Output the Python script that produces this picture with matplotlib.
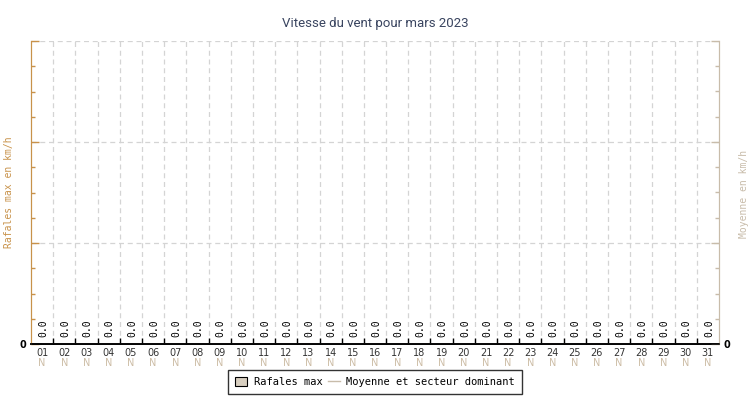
import matplotlib
matplotlib.use("Agg")
import matplotlib.pyplot as plt
from matplotlib.patches import Patch
from matplotlib.lines import Line2D
from matplotlib.ticker import MultipleLocator

# donnees du mois
jours = ["%02d" % d for d in range(1, 32)]
rafales = [0.0] * 31
moyenne = [0.0] * 31
secteur = ["N"] * 31

titre = "Vitesse du vent pour mars 2023"
col_rafales = "#c8924a"
col_moyenne = "#c8bcaa"
col_secteur = "#cdbda6"
col_grille = "#d4d4d4"

fig = plt.figure(figsize=(7.5, 4), dpi=100)
ax = fig.add_axes([31 / 750, 1 - 344 / 400, 688 / 750, 303 / 400])
ax2 = ax.twinx()

x = list(range(len(jours)))
ax.bar(x, rafales, width=0.8, color="#d8cfc0", linewidth=0)
ax2.plot(x, moyenne, color=col_moyenne, linewidth=1)

for i, v in enumerate(rafales):
    ax.text(i + 0.05, 0.07, "%.1f" % v, rotation=90, ha="center", va="bottom",
            fontsize=7, family="DejaVu Sans Mono", color="black")

ax.set_xlim(-0.5, len(jours) - 0.5)
ax.set_ylim(0, 3)
ax2.set_ylim(0, 3)

ax.set_xticks(x)
ax.set_xticklabels(jours, fontsize=7, color="#333333")
ax.tick_params(axis="x", length=0, pad=3)
# secteur dominant sous les jours
for i, s in enumerate(secteur):
    ax.text(i, -0.135, s, ha="center", va="top", fontsize=7, color=col_secteur,
            clip_on=False)
# petites marques aux limites des jours
ax.set_xticks([i + 0.5 for i in x[:-1]], minor=True)
ax.tick_params(axis="x", which="minor", direction="in", length=4, color="black", width=1)
ax.grid(True, which="minor", axis="x", color=col_grille, linestyle=(0, (4, 3)), linewidth=0.9)

ax.set_yticks([0, 1, 2, 3])
ax.set_yticklabels(["0", "", "", ""], fontsize=7, fontweight="bold")
ax.yaxis.set_minor_locator(MultipleLocator(0.25))
ax.tick_params(axis="y", which="major", direction="in", length=6, color=col_rafales, width=1)
ax.tick_params(axis="y", which="minor", direction="in", length=3, color=col_rafales, width=1)
ax.grid(True, which="major", axis="y", color=col_grille, linestyle=(0, (4, 3)), linewidth=0.9)

ax2.set_yticks([0, 1, 2, 3])
ax2.set_yticklabels(["0", "", "", ""], fontsize=7, fontweight="bold")
ax2.yaxis.set_minor_locator(MultipleLocator(0.25))
ax2.tick_params(axis="y", which="major", direction="in", length=6, color=col_moyenne, width=1)
ax2.tick_params(axis="y", which="minor", direction="in", length=3, color=col_moyenne, width=1)

for a in (ax, ax2):
    a.spines["top"].set_visible(False)
    a.spines["left"].set_color(col_rafales)
    a.spines["right"].set_color(col_moyenne)
    a.spines["bottom"].set_color("black")
    a.spines["bottom"].set_linewidth(1.2)

fig.text(9 / 750, 1 - 192 / 400, "Rafales max en km/h", rotation=90, ha="center", va="center",
         color=col_rafales, fontsize=7, family="DejaVu Sans Mono")
fig.text(744 / 750, 1 - 194 / 400, "Moyenne en km/h", rotation=90, ha="center", va="center",
         color=col_moyenne, fontsize=7, family="DejaVu Sans Mono")

fig.text(375 / 750, 1 - 24 / 400, titre, ha="center", va="center", fontsize=9.5,
         color="#3a4560", family="Roboto")

handles = [Patch(facecolor="#d8cfc0", edgecolor="black", linewidth=0.8),
           Line2D([], [], color=col_moyenne, linewidth=1)]
leg = fig.legend(handles, ["Rafales max", "Moyenne et secteur dominant"],
                 loc="center", bbox_to_anchor=(375 / 750, 1 - 382 / 400), ncol=2,
                 fancybox=False, frameon=True, edgecolor="black",
                 prop={"family": "DejaVu Sans Mono", "size": 7.5},
                 handlelength=1.2, handleheight=1.0, columnspacing=0.5, handletextpad=0.6,
                 borderpad=0.7)
leg.get_frame().set_linewidth(1)

fig.savefig("out.png", dpi=100)
